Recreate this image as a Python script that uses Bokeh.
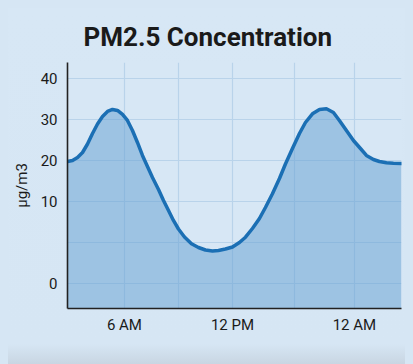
from bokeh.plotting import figure
from bokeh.models import Range1d, FixedTicker, Title
from bokeh.embed import file_html
from bokeh.resources import INLINE

# data (x in grid units, y on the chart's internal linear scale)
x_vals = [0.000, 0.087, 0.174, 0.261, 0.348, 0.435, 0.522, 0.609, 0.696, 0.783,
          0.870, 0.957, 1.043, 1.130, 1.217, 1.304, 1.391, 1.478, 1.583, 1.670,
          1.757, 1.843, 1.930, 2.035, 2.157, 2.278, 2.400, 2.522, 2.626, 2.748,
          2.870, 2.991, 3.096, 3.217, 3.339, 3.443, 3.565, 3.687, 3.791, 3.913,
          4.035, 4.139, 4.261, 4.383, 4.504, 4.626, 4.730, 4.852, 4.974, 5.096,
          5.200, 5.322, 5.426, 5.548, 5.670, 5.809]
pm_vals = [29.76, 30.00, 30.73, 31.95, 34.02, 36.59, 38.90, 40.73, 41.95, 42.44,
           42.20, 41.22, 39.76, 37.32, 34.39, 31.22, 28.54, 25.85, 22.93, 20.24,
           17.80, 15.37, 13.29, 11.34, 9.68, 8.78, 8.17, 7.93, 8.05, 8.41,
           8.90, 10.00, 11.29, 13.41, 15.85, 18.54, 21.88, 25.61, 29.15, 32.93,
           36.59, 39.27, 41.39, 42.44, 42.61, 41.71, 39.76, 37.32, 34.88, 32.93,
           31.22, 30.24, 29.76, 29.44, 29.34, 29.27]

x_ticks = [0.99, 1.93, 2.87, 3.95, 4.99]
x_tick_labels = ["6 AM", "", "12 PM", "", "12 AM"]
y_ticks = [0, 10, 20, 30, 40, 50]
y_tick_labels = ["0", "", "10", "20", "30", "40"]
title_text = "PM2.5 Concentration"

BG = "#d7e7f5"
FONT = "Roboto"

p = figure(width=397, height=348, output_backend="svg", toolbar_location=None,
           x_range=Range1d(0, 5.81), y_range=Range1d(-6.1, 53.9),
           min_border_left=59, min_border_right=4, min_border_top=54,
           min_border_bottom=48)
p.background_fill_color = BG
p.border_fill_color = None
p.outline_line_color = None

t = Title(text=title_text, align="left", offset=16,
          text_font=FONT, text_font_size="26px", text_font_style="bold",
          text_color="#1a1a1a", standoff=22, text_line_height=1.15)
p.add_layout(t, "above")

p.varea(x=x_vals, y1=-6.1, y2=pm_vals, fill_color="#64a0d2", fill_alpha=0.5)
p.line(x=x_vals, y=pm_vals, line_color="#1b6fb4", line_width=3.5,
       line_join="round", line_cap="round")

p.xaxis.ticker = FixedTicker(ticks=x_ticks)
p.xaxis.major_label_overrides = {t_: l for t_, l in zip(x_ticks, x_tick_labels)}
p.yaxis.ticker = FixedTicker(ticks=y_ticks)
p.yaxis.major_label_overrides = {t_: l for t_, l in zip(y_ticks, y_tick_labels)}

for ax in (p.xaxis, p.yaxis):
    ax.axis_line_color = "#222222"
    ax.axis_line_width = 1.6
    ax.major_tick_line_color = None
    ax.minor_tick_line_color = None
    ax.major_tick_in = 0
    ax.major_tick_out = 0
    ax.major_label_text_font = FONT
    ax.major_label_text_font_size = "15px"
    ax.major_label_text_font_style = "normal"
    ax.major_label_text_color = "#1a1a1a"
    ax.major_label_standoff = 10
p.xaxis.major_label_standoff = 7

p.yaxis.axis_label = "µg/m3"
p.yaxis.axis_label_text_font = FONT
p.yaxis.axis_label_text_font_size = "15px"
p.yaxis.axis_label_text_font_style = "normal"
p.yaxis.axis_label_text_color = "#1a1a1a"
p.yaxis.axis_label_standoff = 7

p.grid.grid_line_color = "#b9d3ea"
p.grid.grid_line_width = 1.2
p.xgrid.ticker = FixedTicker(ticks=x_ticks)
p.ygrid.ticker = FixedTicker(ticks=y_ticks)

html = file_html(p, INLINE)
style = ("<style>html{background:#d6e6f4 !important;}"
         "body{margin:8px !important;min-height:348px;"
         "background:linear-gradient(to bottom, #d7e7f5 0px, #d6e6f4 336px, #c3cfdb 364px) !important;}"
         "</style></head>")
html = html.replace("</head>", style, 1)
open("out.html", "w").write(html)
